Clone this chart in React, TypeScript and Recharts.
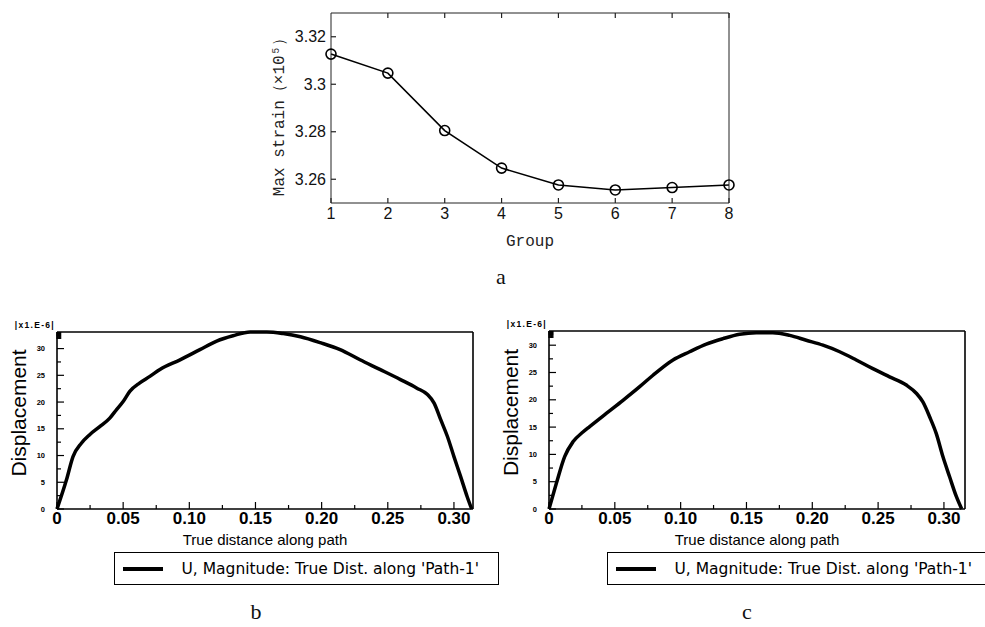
import React from "react";
import { LineChart, Line, XAxis, YAxis, Legend } from "recharts";

// panel a: max strain per group
const groups = [1, 2, 3, 4, 5, 6, 7, 8];
const maxStrain = [3.3127, 3.3047, 3.2805, 3.2647, 3.2576, 3.2555, 3.2565, 3.2576];
const strainTicks = [3.26, 3.28, 3.3, 3.32];

// panels b and c: displacement (x1.E-6) along the path
const distB = [0, 0.0071, 0.0121, 0.0184, 0.0247, 0.0323, 0.0399, 0.045, 0.05, 0.055, 0.0626, 0.0702, 0.0778, 0.093, 0.108, 0.1207, 0.133, 0.146, 0.1586, 0.171, 0.184, 0.199, 0.214, 0.229, 0.244, 0.2596, 0.272, 0.28, 0.285, 0.29, 0.295, 0.3, 0.305, 0.31, 0.3134];
const dispB = [0, 5.4, 9.8, 12.3, 13.9, 15.4, 17, 18.6, 20.1, 22, 23.6, 24.8, 26.1, 27.9, 29.8, 31.4, 32.4, 33.1, 33.1, 32.8, 32.2, 31.1, 29.8, 27.9, 26.1, 24.2, 22.6, 21.4, 19.8, 16.7, 13.6, 9.8, 6.1, 2.3, 0];

const distC = [0, 0.0056, 0.0119, 0.0182, 0.0258, 0.0309, 0.0435, 0.0562, 0.0689, 0.079, 0.0942, 0.1068, 0.1195, 0.1322, 0.1448, 0.1575, 0.17, 0.1828, 0.1954, 0.2081, 0.2208, 0.2334, 0.246, 0.2587, 0.2714, 0.279, 0.284, 0.2891, 0.2942, 0.2992, 0.3043, 0.3094, 0.3135];
const dispC = [0, 4.7, 9.6, 12.3, 14.1, 15.1, 17.5, 19.9, 22.4, 24.5, 27.3, 28.8, 30.2, 31.2, 32, 32.3, 32.3, 31.8, 30.9, 30, 28.8, 27.3, 25.7, 24.2, 22.7, 21.2, 19.6, 16.9, 13.8, 9.6, 5.9, 2.3, 0];

const distTicks = [0, 0.025, 0.05, 0.075, 0.1, 0.125, 0.15, 0.175, 0.2, 0.225, 0.25, 0.275, 0.3];
const distMajor = [0, 0.05, 0.1, 0.15, 0.2, 0.25, 0.3];
const distLabels = ["0", "0.05", "0.10", "0.15", "0.20", "0.25", "0.30"];
const dispTicks = [0, 2.5, 5, 7.5, 10, 12.5, 15, 17.5, 20, 22.5, 25, 27.5, 30];
const dispMajor = [0, 5, 10, 15, 20, 25, 30];
const dispLabels = ["0", "5", "10", "15", "20", "25", "30"];
const pathName = "U, Magnitude: True Dist. along 'Path-1'";

const dataA = groups.map((g, i) => ({ group: g, strain: maxStrain[i] }));
const dataB = distB.map((d, i) => ({ dist: d, u: dispB[i] }));
const dataC = distC.map((d, i) => ({ dist: d, u: dispC[i] }));

const sans = "'Liberation Sans', Arial, sans-serif";
const mono = "'Liberation Mono', 'Courier New', monospace";

type TickOpts = {
  side: "bottom" | "top" | "left" | "right";
  major: number[];
  labels?: string[];
  len: number;
  minorLen: number;
  gap?: number;
  font?: React.CSSProperties;
  stroke?: string;
};

// inward ticks (major + minor) drawn on the axis' own tick positions
function makeTick(o: TickOpts) {
  return (props: any) => {
    const { x, y, payload } = props;
    const v = payload.value as number;
    const idx = o.major.findIndex((m) => Math.abs(m - v) < 1e-9);
    const l = idx >= 0 ? o.len : o.minorLen;
    const s = o.stroke ?? "#000";
    let line = null;
    let text = null;
    if (o.side === "bottom") {
      line = <line x1={x} y1={y} x2={x} y2={y - l} stroke={s} strokeWidth={1.2} />;
      if (o.labels && idx >= 0)
        text = <text x={x} y={y + (o.gap ?? 14)} textAnchor="middle" style={o.font}>{o.labels[idx]}</text>;
    } else if (o.side === "top") {
      line = <line x1={x} y1={y} x2={x} y2={y + l} stroke={s} strokeWidth={1.2} />;
    } else if (o.side === "left") {
      line = <line x1={x} y1={y} x2={x + l} y2={y} stroke={s} strokeWidth={1.2} />;
      if (o.labels && idx >= 0)
        text = <text x={x - (o.gap ?? 6)} y={y} textAnchor="end" dominantBaseline="central" style={o.font}>{o.labels[idx]}</text>;
    } else {
      line = <line x1={x} y1={y} x2={x - l} y2={y} stroke={s} strokeWidth={1.2} />;
    }
    return <g>{line}{text}</g>;
  };
}

function StrainPanel() {
  const ax = { stroke: "#222", strokeWidth: 1 };
  const tickFont = { fontFamily: sans, fontSize: 16, fill: "#111" };
  const dot = { r: 5, fill: "none", stroke: "#000", strokeWidth: 1.6 };
  return (
    <LineChart width={490} height={260} data={dataA} margin={{ top: 12, right: 20, bottom: 27, left: 11 }}>
      <XAxis dataKey="group" type="number" domain={[1, 8]} ticks={groups} interval={0} height={30}
        tickSize={0} tickMargin={0} tickLine={false} axisLine={ax}
        tick={makeTick({ side: "bottom", major: groups, labels: groups.map(String), len: 5, minorLen: 5, gap: 16, font: tickFont, stroke: "#222" })}
        label={{ value: "Group", position: "center", dy: 22, fontFamily: mono, fontSize: 16, fill: "#222" }} />
      <XAxis xAxisId="top" orientation="top" type="number" domain={[1, 8]} ticks={groups} interval={0} height={1}
        tickSize={0} tickMargin={0} tickLine={false} axisLine={ax}
        tick={makeTick({ side: "top", major: groups, len: 5, minorLen: 5, stroke: "#222" })} />
      <YAxis type="number" domain={[3.25, 3.33]} ticks={strainTicks} interval={0} width={60}
        tickSize={0} tickMargin={0} tickLine={false} axisLine={ax}
        tick={makeTick({ side: "left", major: strainTicks, labels: strainTicks.map(String), len: 5, minorLen: 5, gap: 5, font: tickFont, stroke: "#222" })}
        label={{ value: "Max strain（×10⁵）", angle: -90, position: "center", dx: -23, dy: 5, fontFamily: mono, fontSize: 16, fill: "#222" }} />
      <YAxis yAxisId="right" orientation="right" type="number" domain={[3.25, 3.33]} ticks={strainTicks} interval={0} width={1}
        tickSize={0} tickMargin={0} tickLine={false} axisLine={ax}
        tick={makeTick({ side: "right", major: strainTicks, len: 5, minorLen: 5, stroke: "#222" })} />
      <Line dataKey="strain" type="linear" stroke="#000" strokeWidth={1.6} dot={dot} isAnimationActive={false} />
    </LineChart>
  );
}

function PathLegend(props: any) {
  const item = props.payload?.[0];
  return (
    <div style={{ boxSizing: "border-box", width: 385, height: 33, border: "1.5px solid #000", display: "flex", alignItems: "center", background: "#fff" }}>
      <svg width={50} height={10} style={{ marginLeft: 7.5, flex: "none" }}>
        <line x1={0} y1={5} x2={40} y2={5} stroke={item?.color ?? "#000"} strokeWidth={4} />
      </svg>
      <span style={{ fontFamily: "'DejaVu Sans', Verdana, sans-serif", fontSize: 15.5, whiteSpace: "nowrap", marginLeft: 9, color: "#000" }}>
        {item?.value}
      </span>
    </div>
  );
}

type PanelProps = {
  data: { dist: number; u: number }[];
  width: number;
  xMax: number;
  yMax: number;
  margin: { top: number; right: number; bottom: number; left: number };
  legendLeft: number;
};

function PathPanel({ data, width, xMax, yMax, margin, legendLeft }: PanelProps) {
  const ax = { stroke: "#000", strokeWidth: 1.6 };
  const xFont = { fontFamily: sans, fontSize: 17, fontWeight: 700, fill: "#000" };
  const yFont = { fontFamily: sans, fontSize: 7.5, fontWeight: 700, fill: "#000" };
  return (
    <LineChart width={width} height={300} data={data} margin={margin}>
      <XAxis dataKey="dist" type="number" domain={[0, xMax]} ticks={distTicks} interval={0} height={30}
        tickSize={0} tickMargin={0} tickLine={false} axisLine={ax}
        tick={makeTick({ side: "bottom", major: distMajor, labels: distLabels, len: 7, minorLen: 4, gap: 15, font: xFont })}
        label={{ value: "True distance along path", position: "center", dy: 16, fontFamily: sans, fontSize: 15, fill: "#000" }} />
      <XAxis xAxisId="top" orientation="top" type="number" domain={[0, xMax]} ticks={distTicks} interval={0} height={1}
        tickSize={0} tickMargin={0} tickLine={false} axisLine={ax}
        tick={makeTick({ side: "top", major: distMajor, len: 7, minorLen: 4 })}
        label={{ value: "|x1.E-6|", position: "left", offset: 2, dy: -7, fontFamily: sans, fontSize: 8.5, letterSpacing: 1.3, fontWeight: 700, fill: "#000" }} />
      <YAxis type="number" domain={[0, yMax]} ticks={dispTicks} interval={0} width={45}
        tickSize={0} tickMargin={0} tickLine={false} axisLine={ax}
        tick={makeTick({ side: "left", major: dispMajor, labels: dispLabels, len: 7, minorLen: 4, gap: 12, font: yFont })}
        label={{ value: "Displacement", angle: -90, position: "center", dx: -16, dy: -7.5, fontFamily: sans, fontSize: 21, fill: "#000" }} />
      <YAxis yAxisId="right" orientation="right" type="number" domain={[0, yMax]} ticks={dispTicks} interval={0} width={1}
        tickSize={0} tickMargin={0} tickLine={false} axisLine={ax}
        tick={makeTick({ side: "right", major: dispMajor, len: 7, minorLen: 4 })} />
      <Legend layout="vertical" align="center" verticalAlign="middle" content={<PathLegend />}
        wrapperStyle={{ left: legendLeft, top: 252, width: 385, height: 33 }} />
      <Line dataKey="u" name={pathName} type="monotone" stroke="#000" strokeWidth={3.5} dot={false} isAnimationActive={false} />
    </LineChart>
  );
}

const caption: React.CSSProperties = {
  position: "absolute", width: 40, textAlign: "center", fontFamily: "'Liberation Serif', 'Times New Roman', serif",
  fontSize: 22, lineHeight: "22px", color: "#111",
};

export default function App() {
  return (
    <div style={{ position: "absolute", left: 0, top: 0, width: 985, height: 627, overflow: "hidden", background: "#fff" }}>
      <div style={{ position: "absolute", left: 260, top: 0 }}>
        <StrainPanel />
      </div>
      <div style={{ position: "absolute", left: 0, top: 300 }}>
        <PathPanel data={dataB} width={490} xMax={0.3144} yMax={33.1}
          margin={{ top: 31, right: 16, bottom: 61, left: 12 }} legendLeft={114} />
      </div>
      <div style={{ position: "absolute", left: 490, top: 300 }}>
        <PathPanel data={dataC} width={495} xMax={0.316} yMax={32.6}
          margin={{ top: 30, right: 19, bottom: 61, left: 14 }} legendLeft={117} />
      </div>
      <div style={{ ...caption, left: 481, top: 266 }}>a</div>
      <div style={{ ...caption, left: 236, top: 601 }}>b</div>
      <div style={{ ...caption, left: 727, top: 601 }}>c</div>
    </div>
  );
}
